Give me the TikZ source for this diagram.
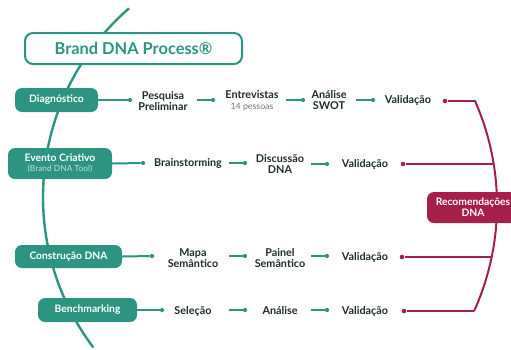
\documentclass[tikz,border=0pt]{standalone}
\usepackage{fontspec}
\setmainfont{Lato}
\definecolor{teal1}{RGB}{45,148,130}
\definecolor{red1}{RGB}{166,30,74}
\definecolor{dark1}{RGB}{30,45,42}
\definecolor{gray1}{RGB}{110,118,116}
\begin{document}
\begin{tikzpicture}[x=1pt,y=1pt,
  tbox/.style={draw=none,fill=teal1,rounded corners=7pt,text=white,font=\bfseries\fontsize{10.3}{11}\selectfont,align=center,inner sep=0pt},
  lbl/.style={text=dark1,font=\bfseries\fontsize{10.8}{11}\selectfont,align=center,inner sep=0pt},
  tdot/.style={circle,fill=teal1,inner sep=0pt,minimum size=4.2pt},
  rdot/.style={circle,fill=red1,inner sep=0pt,minimum size=4.6pt},
  tl/.style={draw=teal1,line width=2pt},
  rl/.style={draw=red1,line width=2pt}]
\useasboundingbox (0,0) rectangle (511,-349);
\clip (0,0) rectangle (511,-349);
% teal arc
\coordinate (tc) at (293,-197);
\draw[teal1,line width=2.4pt] (tc) ++(131:250) arc[start angle=131,end angle=217,radius=250pt];
% red arc
\coordinate (rc) at (240,-205);
\draw[rl] (rc) ++(23.9:257) arc[start angle=23.9,end angle=-24.4,radius=257pt];
% title
\node[draw=teal1,line width=2pt,fill=white,rounded corners=8pt,minimum width=217pt,minimum height=31pt,text=teal1,font=\bfseries\fontsize{16.4}{18}\selectfont] (title) at (133.5,-48.5) {Brand DNA Process®};
% boxes
\node[tbox,minimum width=83pt,minimum height=24pt] (b1) at (56.5,-100) {Diagnóstico};
\node[tbox,minimum width=104pt,minimum height=31pt] (b2) at (60,-163.5) {Evento Criativo\\[-1pt]{\fontsize{8.4}{9}\selectfont\mdseries\color{white!70!teal1}(Brand DNA Tool)}};
\node[tbox,minimum width=107pt,minimum height=23pt] (b3) at (68.5,-256.5) {Construção DNA};
\node[tbox,minimum width=99pt,minimum height=24pt] (b4) at (87.5,-310) {Benchmarking};
\node[tbox,fill=red1,minimum width=92pt,minimum height=31pt] (rec) at (473,-207.5) {Recomendações\\DNA};
% row 1
\node[tdot] (d11) at (130,-100) {};
\node[lbl] (p1) at (163,-101) {Pesquisa\\Preliminar};
\node[tdot] (d12) at (213,-100) {};
\node[lbl] (e1) at (252,-100.5) {Entrevistas\\{\fontsize{8.8}{9}\selectfont\mdseries\color{gray1}14 pessoas}};
\node[tdot] (d13) at (303,-100) {};
\node[lbl] (a1) at (329,-100) {Análise\\SWOT};
\node[tdot] (d14) at (373,-100) {};
\node[lbl] (v1) at (408,-100) {Validação};
\node[rdot] (r1) at (445,-101) {};
% row 2
\node[tdot] (d21) at (143,-163) {};
\node[lbl] (p2) at (188,-163) {Brainstorming};
\node[tdot] (d22) at (245,-163) {};
\node[lbl] (e2) at (280,-164) {Discussão\\DNA};
\node[tdot] (d23) at (327,-164) {};
\node[lbl] (v2) at (365,-164) {Validação};
\node[rdot] (r2) at (403,-164) {};
% row 3
\node[tdot] (d31) at (152,-256) {};
\node[lbl] (p3) at (193,-258) {Mapa\\Semântico};
\node[tdot] (d32) at (245,-256) {};
\node[lbl] (e3) at (280,-258) {Painel\\Semântico};
\node[tdot] (d33) at (327,-256) {};
\node[lbl] (v3) at (365,-257) {Validação};
\node[rdot] (r3) at (402,-257) {};
% row 4
\node[tdot] (d41) at (162,-310) {};
\node[lbl] (p4) at (193,-311) {Seleção};
\node[tdot] (d42) at (245,-310) {};
\node[lbl] (e4) at (280,-311) {Análise};
\node[tdot] (d43) at (327,-310) {};
\node[lbl] (v4) at (365,-311) {Validação};
\node[rdot] (r4) at (404,-311) {};
% teal connectors
\draw[tl] (b1.east) -- (d11);
\draw[tl] (d12) -- ++(-16,0);
\draw[tl] (d13) -- ++(-17,0);
\draw[tl] (d14) -- ++(-17,0);
\draw[tl] (b2.east) -- (d21);
\draw[tl] (d22) -- ++(-16,0);
\draw[tl] (d23) -- ++(-16,0);
\draw[tl] (b3.east) -- (d31);
\draw[tl] (d32) -- ++(-16,0);
\draw[tl] (d33) -- ++(-16,0);
\draw[tl] (b4.east) -- (d41);
\draw[tl] (d42) -- ++(-16,0);
\draw[tl] (d43) -- ++(-16,0);
% red connectors
\draw[rl] (r1) -- (475.5,-101);
\draw[rl] (r2) -- (494,-164);
\draw[rl] (r3) -- (492,-257);
\draw[rl] (r4) -- (474,-311);
\end{tikzpicture}
\end{document}
